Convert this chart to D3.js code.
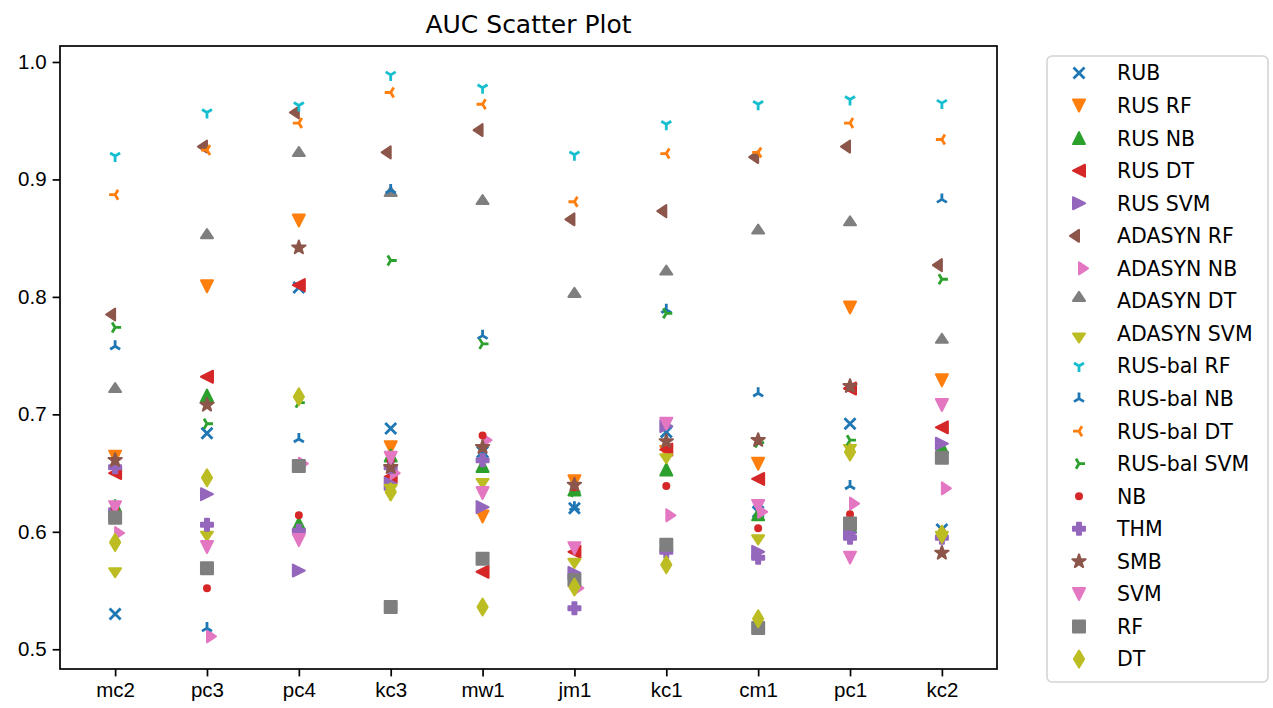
<!DOCTYPE html>
<html>
<head>
<meta charset="utf-8">
<script src="https://cdn.jsdelivr.net/npm/d3@7"></script>
<style>
  html, body { margin: 0; padding: 0; background: #fff; }
  svg { display: block; font-family: "DejaVu Sans", sans-serif; }
</style>
</head>
<body>
<div id="viz"></div>
<script>
// categories (datasets) on the x axis
var categories = ["mc2", "pc3", "pc4", "kc3", "mw1", "jm1", "kc1", "cm1", "pc1", "kc2"];
var yTicks = [0.5, 0.6, 0.7, 0.8, 0.9, 1.0];

// AUC per method, same order as categories
var RUB        = [0.530, 0.684, 0.808, 0.688, 0.668, 0.620, 0.685, 0.617, 0.692, 0.602];
var RUS_RF     = [0.664, 0.809, 0.865, 0.672, 0.613, 0.643, 0.668, 0.658, 0.791, 0.729];
var RUS_NB     = [0.622, 0.716, 0.607, 0.665, 0.656, 0.636, 0.653, 0.615, 0.605, 0.672];
var RUS_DT     = [0.650, 0.732, 0.810, 0.647, 0.566, 0.583, 0.670, 0.645, 0.722, 0.689];
var RUS_SVM    = [0.615, 0.632, 0.567, 0.641, 0.621, 0.565, 0.690, 0.583, 0.599, 0.675];
var ADASYN_RF  = [0.785, 0.928, 0.957, 0.923, 0.942, 0.866, 0.873, 0.919, 0.928, 0.827];
var ADASYN_NB  = [0.599, 0.511, 0.658, 0.650, 0.678, 0.552, 0.614, 0.617, 0.624, 0.637];
var ADASYN_DT  = [0.719, 0.850, 0.920, 0.886, 0.879, 0.800, 0.819, 0.854, 0.861, 0.761];
var ADASYN_SVM = [0.569, 0.600, 0.602, 0.640, 0.645, 0.577, 0.666, 0.597, 0.674, 0.600];
var RUSBAL_RF  = [0.920, 0.957, 0.963, 0.989, 0.978, 0.921, 0.947, 0.964, 0.968, 0.965];
var RUSBAL_NB  = [0.758, 0.518, 0.679, 0.891, 0.767, 0.621, 0.789, 0.718, 0.639, 0.883];
var RUSBAL_DT  = [0.887, 0.925, 0.948, 0.974, 0.964, 0.881, 0.922, 0.923, 0.948, 0.934];
var RUSBAL_SVM = [0.774, 0.692, 0.710, 0.831, 0.760, 0.634, 0.786, 0.676, 0.678, 0.815];
var NB         = [0.620, 0.552, 0.614, 0.660, 0.682, 0.638, 0.639, 0.603, 0.615, 0.600];
var THM        = [0.655, 0.606, 0.601, 0.655, 0.661, 0.535, 0.583, 0.578, 0.595, 0.595];
var SMB        = [0.661, 0.708, 0.842, 0.655, 0.672, 0.640, 0.677, 0.678, 0.724, 0.582];
var SVM        = [0.621, 0.587, 0.593, 0.663, 0.633, 0.586, 0.692, 0.622, 0.578, 0.708];
var RF         = [0.612, 0.569, 0.656, 0.536, 0.577, 0.559, 0.589, 0.518, 0.607, 0.663];
var DT         = [0.591, 0.646, 0.715, 0.634, 0.536, 0.553, 0.572, 0.526, 0.668, 0.598];

// matplotlib tab10
var C = {
  blue: "#1f77b4", orange: "#ff7f0e", green: "#2ca02c", red: "#d62728", purple: "#9467bd",
  brown: "#8c564b", pink: "#e377c2", grey: "#7f7f7f", olive: "#bcbd22", cyan: "#17becf"
};

var series = [
  {name: "RUB",          values: RUB,        color: C.blue,   marker: "x"},
  {name: "RUS RF",       values: RUS_RF,     color: C.orange, marker: "v"},
  {name: "RUS NB",       values: RUS_NB,     color: C.green,  marker: "^"},
  {name: "RUS DT",       values: RUS_DT,     color: C.red,    marker: "<"},
  {name: "RUS SVM",      values: RUS_SVM,    color: C.purple, marker: ">"},
  {name: "ADASYN RF",    values: ADASYN_RF,  color: C.brown,  marker: "cl"},
  {name: "ADASYN NB",    values: ADASYN_NB,  color: C.pink,   marker: "cr"},
  {name: "ADASYN DT",    values: ADASYN_DT,  color: C.grey,   marker: "cu"},
  {name: "ADASYN SVM",   values: ADASYN_SVM, color: C.olive,  marker: "cd"},
  {name: "RUS-bal RF",   values: RUSBAL_RF,  color: C.cyan,   marker: "1"},
  {name: "RUS-bal NB",   values: RUSBAL_NB,  color: C.blue,   marker: "2"},
  {name: "RUS-bal DT",   values: RUSBAL_DT,  color: C.orange, marker: "3"},
  {name: "RUS-bal SVM",  values: RUSBAL_SVM, color: C.green,  marker: "4"},
  {name: "NB",           values: NB,         color: C.red,    marker: "."},
  {name: "THM",          values: THM,        color: C.purple, marker: "P"},
  {name: "SMB",          values: SMB,        color: C.brown,  marker: "*"},
  {name: "SVM",          values: SVM,        color: C.pink,   marker: "v"},
  {name: "RF",           values: RF,         color: C.grey,   marker: "s"},
  {name: "DT",           values: DT,         color: C.olive,  marker: "d"}
];

// marker glyphs (centred on 0,0), roughly matplotlib's shapes at s=36
function starPath(ro, ri) {
  var p = d3.path();
  for (var i = 0; i < 10; i++) {
    var r = i % 2 ? ri : ro;
    var a = i * Math.PI / 5;
    var px = r * Math.sin(a), py = -r * Math.cos(a);
    if (i === 0) p.moveTo(px, py); else p.lineTo(px, py);
  }
  p.closePath();
  return p.toString();
}
var glyphs = {
  "x":  {d: "M-5.5,-5.5L5.5,5.5M-5.5,5.5L5.5,-5.5", line: true},
  "v":  {d: "M-6,-6L6,-6L0,6Z"},
  "^":  {d: "M-6,6L6,6L0,-6Z"},
  "<":  {d: "M6,-6L6,6L-6,0Z"},
  ">":  {d: "M-6,-6L-6,6L6,0Z"},
  "cl": {d: "M0,-6L0,6L-9,0Z"},
  "cr": {d: "M0,-6L0,6L9,0Z"},
  "cu": {d: "M-6,0L6,0L0,-9Z"},
  "cd": {d: "M-6,0L6,0L0,9Z"},
  "1":  {d: "M0,0L0,6M0,0L-5,-3M0,0L5,-3", line: true},
  "2":  {d: "M0,0L0,-6M0,0L-5,3M0,0L5,3", line: true},
  "3":  {d: "M0,0L-6,0M0,0L3,-5M0,0L3,5", line: true},
  "4":  {d: "M0,0L6,0M0,0L-3,-5M0,0L-3,5", line: true},
  ".":  {d: "M3,0A3,3 0 1,1 -3,0A3,3 0 1,1 3,0Z"},
  "P":  {d: "M-2,-6H2V-2H6V2H2V6H-2V2H-6V-2H-2Z"},
  "*":  {d: starPath(7, 2.8)},
  "s":  {d: "M-6,-6H6V6H-6Z"},
  "d":  {d: "M0,-8.5L5.1,0L0,8.5L-5.1,0Z"}
};

function drawMarker(sel, s) {
  var g = glyphs[s.marker];
  sel.attr("d", g.d)
    .attr("fill", g.line ? "none" : s.color)
    .attr("stroke", s.color)
    .attr("stroke-width", g.line ? 2.8 : 2)
    .attr("stroke-linejoin", "round")
    .attr("stroke-linecap", g.line ? "butt" : "round");
}

var W = 1273, H = 708;
var plot = {left: 60, right: 997, top: 46, bottom: 669};

var svg = d3.select("#viz").append("svg")
  .attr("width", W)
  .attr("height", H);

var x = d3.scalePoint()
  .domain(categories)
  .range([plot.left, plot.right])
  .padding(0.6);

var y = d3.scaleLinear()
  .domain([0.4832, 1.0136])
  .range([plot.bottom, plot.top]);

// points, series drawn in legend order so later ones sit on top
series.forEach(function (s) {
  svg.append("g").selectAll("path")
    .data(s.values)
    .join("path")
    .attr("transform", function (v, i) { return "translate(" + x(categories[i]) + "," + y(v) + ")"; })
    .call(drawMarker, s);
});

// frame
svg.append("rect")
  .attr("x", plot.left).attr("y", plot.top)
  .attr("width", plot.right - plot.left).attr("height", plot.bottom - plot.top)
  .attr("fill", "none").attr("stroke", "#000").attr("stroke-width", 1.7);

var xAxis = svg.append("g")
  .attr("transform", "translate(0," + plot.bottom + ")")
  .call(d3.axisBottom(x).tickSize(7.4).tickPadding(6));
var yAxis = svg.append("g")
  .attr("transform", "translate(" + plot.left + ",0)")
  .call(d3.axisLeft(y).tickValues(yTicks).tickFormat(d3.format(".1f")).tickSize(7.4).tickPadding(6));

[xAxis, yAxis].forEach(function (a) {
  a.select(".domain").remove();
  a.selectAll(".tick line").attr("stroke", "#000").attr("stroke-width", 1.7);
  a.selectAll(".tick text").attr("fill", "#000").style("font-size", "20.5px");
});

// title
svg.append("text")
  .attr("x", (plot.left + plot.right) / 2)
  .attr("y", 33)
  .attr("text-anchor", "middle")
  .style("font-size", "25px")
  .text("AUC Scatter Plot");

// legend
var leg = {x: 1047, y: 56, w: 221, h: 626, row0: 73, rowH: 32.56, mx: 1079, tx: 1117};
svg.append("rect")
  .attr("x", leg.x).attr("y", leg.y)
  .attr("width", leg.w).attr("height", leg.h)
  .attr("rx", 5)
  .attr("fill", "#fff").attr("fill-opacity", 0.8)
  .attr("stroke", "#d4d4d4").attr("stroke-width", 1.6);

var items = svg.append("g").selectAll("g")
  .data(series)
  .join("g")
  .attr("transform", function (s, i) { return "translate(0," + (leg.row0 + i * leg.rowH) + ")"; });

items.each(function (s) {
  d3.select(this).append("path")
    .attr("transform", "translate(" + leg.mx + ",0)")
    .call(drawMarker, s);
});

items.append("text")
  .attr("x", leg.tx)
  .attr("dy", "0.36em")
  .style("font-size", "20.5px")
  .attr("fill", "#000")
  .text(function (s) { return s.name; });
</script>
</body>
</html>
